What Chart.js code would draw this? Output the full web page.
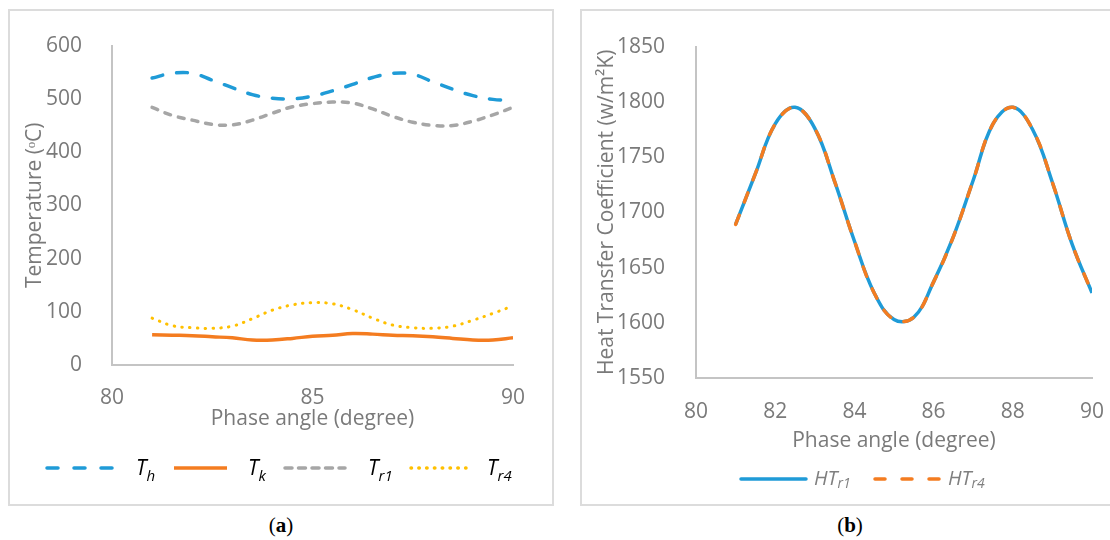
<!DOCTYPE html>
<html>
<head>
<meta charset="utf-8">
<script src="https://cdn.jsdelivr.net/npm/chart.js@4.4.1/dist/chart.umd.min.js"></script>
<style>
  body { margin: 0; width: 1110px; height: 540px; overflow: hidden; background: #fff; }
  .panel { position: absolute; top: 9px; height: 497px; border: 2px solid #dcdcdc; box-sizing: border-box; }
  #pa { left: 8px; width: 546px; }
  #pb { left: 580px; width: 540px; }
  canvas { display: block; }
  .cap { position: absolute; top: 513px; width: 80px; text-align: center; font: 21px "Liberation Serif", "DejaVu Serif", serif; color: #000; }
  .cap b { font-weight: bold; }
</style>
</head>
<body>
<div class="panel" id="pa"><canvas id="chartA" width="542" height="493"></canvas></div>
<div class="panel" id="pb"><canvas id="chartB" width="536" height="493"></canvas></div>
<div class="cap" style="left:241px">(<b>a</b>)</div>
<div class="cap" style="left:810px">(<b>b</b>)</div>

<script>
// phase angle (degree)
const angles = [81, 81.5, 82, 82.5, 83, 83.5, 84, 84.5, 85, 85.5, 86, 86.5, 87, 87.5, 88, 88.5, 89, 89.5, 90];

// panel (a) temperatures, oC
const tempH  = [539, 548, 548, 535, 521, 508, 501, 500, 505, 515, 527, 540, 548, 546, 532, 518, 506, 499, 497];
const tempK  = [57, 56, 55, 53, 51, 47, 47, 50, 54, 56, 59, 58, 56, 55, 53, 50, 47, 47, 51];
const tempR1 = [484, 469, 460, 452, 451, 460, 473, 485, 491, 494, 492, 481, 467, 456, 450, 450, 458, 470, 484];
const tempR4 = [88, 74, 70, 69, 73, 87, 103, 113, 117, 115, 104, 88, 75, 70, 69, 73, 84, 97, 111];

// panel (b) heat transfer coefficient, w/m2K
const htR1 = [1689, 1735, 1780, 1795, 1776, 1728, 1674, 1627, 1603, 1605, 1637, 1678, 1729, 1780, 1795, 1775, 1727, 1671, 1627];
const htR4 = [1689, 1735, 1780, 1795, 1776, 1728, 1674, 1627, 1603, 1605, 1637, 1678, 1729, 1780, 1795, 1775, 1727, 1671, 1627];

const tickColor = '#7a7a7a';
const axisColor = '#c4c4c4';
const blue = '#1f9bd7';
const orange = '#f47c20';
const grey = '#a6a6a6';
const yellow = '#ffc000';

function pts(ys) {
  return angles.map((a, i) => ({ x: a, y: ys[i] }));
}

// legend with subscripts, drawn under the x axis title
const subLegend = {
  id: 'subLegend',
  afterDraw(chart, args, opts) {
    const ctx = chart.ctx;
    ctx.save();
    opts.items.forEach(it => {
      ctx.beginPath();
      ctx.strokeStyle = it.color;
      ctx.lineWidth = 3.5;
      ctx.lineCap = it.cap || 'round';
      ctx.setLineDash(it.dash);
      ctx.moveTo(it.x0, opts.y);
      ctx.lineTo(it.x1, opts.y);
      ctx.stroke();
      ctx.setLineDash([]);
      ctx.fillStyle = opts.color;
      ctx.textBaseline = 'alphabetic';
      ctx.textAlign = 'left';
      ctx.font = 'italic ' + opts.size + 'px "Open Sans"';
      ctx.fillText(it.main, it.tx, opts.base);
      const w = ctx.measureText(it.main).width;
      ctx.font = 'italic ' + opts.subSize + 'px "Open Sans"';
      ctx.fillText(it.sub, it.tx + w, opts.base + opts.subShift);
    });
    ctx.restore();
  }
};

function axes(o) {
  return {
    x: {
      type: 'linear', min: 80, max: 90,
      grid: { display: false },
      border: { display: true, color: axisColor, width: 2 },
      ticks: { stepSize: o.xStep, padding: o.xPad, color: tickColor, font: { family: 'Open Sans', size: 21 },
               callback: v => String(v) },
      title: { display: true, text: 'Phase angle (degree)', color: tickColor,
               font: { family: 'Open Sans', size: 21 }, padding: { top: 0, bottom: o.xTitleBottom } },
      afterFit: s => { s.height = o.xHeight; }
    },
    y: {
      min: o.yMin, max: o.yMax,
      grid: { display: false },
      border: { display: true, color: axisColor, width: 2 },
      ticks: { stepSize: o.yStep, padding: o.yPad, color: tickColor, font: { family: 'Open Sans', size: 21 },
               callback: v => String(v) },
      title: { display: true, text: o.yTitle, color: tickColor,
               font: { family: 'Open Sans', size: 21 }, padding: { top: 12, bottom: 0 } },
      afterFit: s => { s.width = o.yWidth; }
    }
  };
}

const lineBase = { pointRadius: 0, borderWidth: 3.5, fill: false, tension: 0.4 };

new Chart(document.getElementById('chartA'), {
  type: 'line',
  data: {
    datasets: [
      Object.assign({}, lineBase, { label: 'Th', data: pts(tempH), borderColor: blue, borderDash: [11, 14], borderCapStyle: 'round' }),
      Object.assign({}, lineBase, { label: 'Tk', data: pts(tempK), borderColor: orange }),
      Object.assign({}, lineBase, { label: 'Tr1', data: pts(tempR1), borderColor: grey, borderDash: [6, 8], borderCapStyle: 'round' }),
      Object.assign({}, lineBase, { label: 'Tr4', data: pts(tempR4), borderColor: yellow, borderWidth: 3, borderDash: [0.5, 7.3], borderCapStyle: 'round' })
    ]
  },
  options: {
    responsive: false,
    animation: false,
    layout: { padding: { left: 0, top: 29, right: 39, bottom: 60 } },
    scales: axes({ xStep: 5, xPad: 12, xTitleBottom: 12, xHeight: 79,
                   yMin: 0, yMax: 600, yStep: 100, yPad: 22, yWidth: 102, yTitle: 'Temperature (ᵒC)' }),
    plugins: {
      legend: { display: false },
      tooltip: { enabled: false },
      subLegend: {
        y: 457, base: 464, color: '#000', size: 21, subSize: 15, subShift: 6,
        items: [
          { main: 'T', sub: 'h', color: blue, dash: [11, 16], x0: 37, x1: 103, tx: 126 },
          { main: 'T', sub: 'k', color: orange, dash: [], cap: 'butt', x0: 164, x1: 217, tx: 238 },
          { main: 'T', sub: 'r1', color: grey, dash: [7, 6.5], x0: 275, x1: 335, tx: 358 },
          { main: 'T', sub: 'r4', color: yellow, dash: [0.5, 7.3], x0: 401, x1: 456, tx: 477 }
        ]
      }
    }
  },
  plugins: [subLegend]
});

new Chart(document.getElementById('chartB'), {
  type: 'line',
  data: {
    datasets: [
      Object.assign({}, lineBase, { label: 'HTr1', data: pts(htR1), borderColor: blue, order: 1 }),
      Object.assign({}, lineBase, { label: 'HTr4', data: pts(htR4), borderColor: orange, borderDash: [10, 14], borderCapStyle: 'round', order: 0 })
    ]
  },
  options: {
    responsive: false,
    animation: false,
    layout: { padding: { left: 0, top: 24, right: 26, bottom: 50 } },
    scales: axes({ xStep: 2, xPad: 13, xTitleBottom: 0, xHeight: 76,
                   yMin: 1550, yMax: 1850, yStep: 50, yPad: 23, yWidth: 114, yTitle: 'Heat Transfer Coefficient (w/m²K)' }),
    plugins: {
      legend: { display: false },
      tooltip: { enabled: false },
      subLegend: {
        y: 468, base: 474, color: '#7f7f7f', size: 20, subSize: 14, subShift: 3,
        items: [
          { main: 'HT', sub: 'r1', color: blue, dash: [], x0: 159, x1: 224, tx: 232 },
          { main: 'HT', sub: 'r4', color: orange, dash: [10, 17], x0: 293, x1: 358, tx: 366 }
        ]
      }
    }
  },
  plugins: [subLegend]
});
</script>
</body>
</html>
